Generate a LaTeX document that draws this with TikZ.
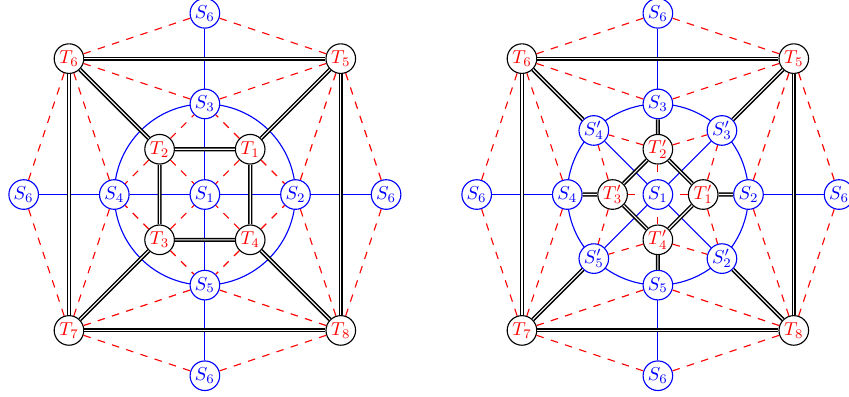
\documentclass[tikz,border=0pt]{standalone}
\usepackage{xcolor}
\usepackage{tikz}
\usepackage{amssymb}

\begin{document}
\begin{tikzpicture}[x=0.85cm,y=0.85cm,semithick,
    snode/.style={circle,draw=blue,fill=white,text=blue,inner sep=0pt,minimum size=15.8pt},
    tnode/.style={circle,draw=black,fill=white,text=red,inner sep=0pt,minimum size=15.8pt},
    bond/.style={draw=black,thick,double},
    rlink/.style={draw=red,dash pattern=on 4pt off 4pt},
    blink/.style={draw=blue}]
  \useasboundingbox (-4.523,-4.448) rectangle (14.219,4.294);
  % the frame both pictures share
  \foreach \p/\c in {a/0,b/10} {
    \begin{scope}[shift={(\c,0)}]
      \draw[blink] (0,0) circle (2);
      \node[snode] (S1\p) at (0,0) {$S_1$};
      \node[snode] (S2\p) at (2,0) {$S_2$};
      \node[snode] (S3\p) at (0,2) {$S_3$};
      \node[snode] (S4\p) at (-2,0) {$S_4$};
      \node[snode] (S5\p) at (0,-2) {$S_5$};
      \node[snode] (S6n\p) at (0,4) {$S_6$};
      \node[snode] (S6e\p) at (4,0) {$S_6$};
      \node[snode] (S6s\p) at (0,-4) {$S_6$};
      \node[snode] (S6w\p) at (-4,0) {$S_6$};
      \node[tnode] (T5\p) at (3,3) {$T_5$};
      \node[tnode] (T6\p) at (-3,3) {$T_6$};
      \node[tnode] (T7\p) at (-3,-3) {$T_7$};
      \node[tnode] (T8\p) at (3,-3) {$T_8$};
    \end{scope}
  }
  % left: inner square
  \node[tnode] (T1a) at (1,1) {$T_1$};
  \node[tnode] (T2a) at (-1,1) {$T_2$};
  \node[tnode] (T3a) at (-1,-1) {$T_3$};
  \node[tnode] (T4a) at (1,-1) {$T_4$};
  % right: primed nodes
  \begin{scope}[shift={(10,0)}]
    \node[snode] (S2pb) at (-45:2) {$S'_2$};
    \node[snode] (S3pb) at (45:2) {$S'_3$};
    \node[snode] (S4pb) at (135:2) {$S'_4$};
    \node[snode] (S5pb) at (225:2) {$S'_5$};
    \node[tnode] (T1b) at (1,0) {$T'_1$};
    \node[tnode] (T2b) at (0,1) {$T'_2$};
    \node[tnode] (T3b) at (-1,0) {$T'_3$};
    \node[tnode] (T4b) at (0,-1) {$T'_4$};
  \end{scope}

  % left
  \draw[blink] (S6na) -- (S3a) -- (S1a) -- (S5a) -- (S6sa);
  \draw[blink] (S6wa) -- (S4a) -- (S1a) -- (S2a) -- (S6ea);
  \draw[bond] (T5a) -- (T6a) -- (T7a) -- (T8a) -- (T5a);
  \draw[bond] (T1a) -- (T2a) -- (T3a) -- (T4a) -- (T1a)
    (T6a) -- (T2a) (T5a) -- (T1a) (T7a) -- (T3a) (T8a) -- (T4a);
  \foreach \t/\s in {T2a/S3a,T1a/S3a,T2a/S4a,T3a/S4a,T3a/S5a,T4a/S5a,T4a/S2a,T1a/S2a,
      T1a/S1a,T2a/S1a,T3a/S1a,T4a/S1a}
    \draw[rlink] (\t) -- (\s);

  % right
  \draw[blink] (S6nb) -- (S3b) (S5b) -- (S6sb);
  \draw[blink] (S6wb) -- (S4b) (S2b) -- (S6eb);
  \draw[blink] (S4pb) -- (S1b) -- (S2pb) (S3pb) -- (S1b) -- (S5pb);
  \draw[bond] (T5b) -- (T6b) -- (T7b) -- (T8b) -- (T5b);
  \draw[bond] (T1b) -- (T2b) -- (T3b) -- (T4b) -- (T1b)
    (T6b) -- (S4pb) (T5b) -- (S3pb) (T7b) -- (S5pb) (T8b) -- (S2pb)
    (S3b) -- (T2b) (S4b) -- (T3b) (S5b) -- (T4b) (S2b) -- (T1b);
  \foreach \t/\s in {T2b/S4pb,T3b/S4pb,T2b/S3pb,T1b/S3pb,T1b/S2pb,T4b/S2pb,T4b/S5pb,T3b/S5pb,
      T1b/S1b,T2b/S1b,T3b/S1b,T4b/S1b}
    \draw[rlink] (\t) -- (\s);

  % dashes round the outer square, both pictures
  \foreach \p in {a,b}
    \foreach \t/\s in {T6/S6n,T5/S6n,T6/S6w,T7/S6w,T7/S6s,T8/S6s,T5/S6e,T8/S6e,
        T6/S3,T5/S3,T6/S4,T7/S4,T7/S5,T8/S5,T8/S2,T5/S2}
      \draw[rlink] (\t\p) -- (\s\p);
\end{tikzpicture}
\end{document}
